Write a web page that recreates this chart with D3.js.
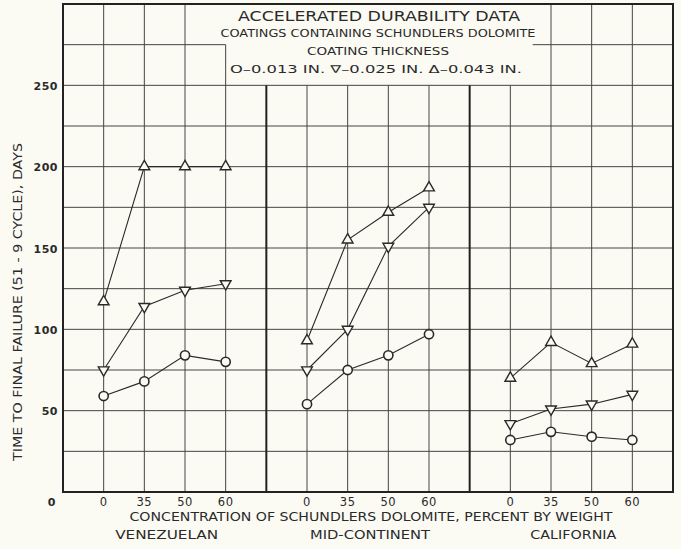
<!DOCTYPE html>
<html>
<head>
<meta charset="utf-8">
<script src="https://cdn.jsdelivr.net/npm/d3@7"></script>
<style>
  body { margin: 0; background: #fbfbf4; }
  svg { display: block; }
  text { font-family: "DejaVu Sans", sans-serif; fill: #2a2a2a; }
</style>
</head>
<body>
<div id="chart"></div>
<script>
// data
var panels = ["VENEZUELAN", "MID-CONTINENT", "CALIFORNIA"];
var panelLabelWidths = [103, 120, 86];
var concentrations = ["0", "35", "50", "60"];
// time to final failure, days -- one row per panel
var thick013 = [[59, 68, 84, 80], [54, 75, 84, 97], [32, 37, 34, 32]];
var thick025 = [[75, 114, 124, 128], [75, 100, 151, 175], [42, 51, 54, 60]];
var thick043 = [[117, 200, 200, 200], [93, 155, 172, 187], [70, 92, 79, 91]];
var yTicks = [0, 50, 100, 150, 200, 250];

var width = 681, height = 549;
var ink = "#2a2a2a";

var svg = d3.select("#chart").append("svg")
    .attr("width", width)
    .attr("height", height);

// x runs over grid columns: 5 columns per panel, points sit on columns 1..4
var xScale = d3.scaleLinear().domain([0, 15]).range([63, 673]);
var yScale = d3.scaleLinear().domain([0, 300]).range([492, 4]);

function colOf(p, i) { return p * 5 + i + 1; }

// grid
var grid = svg.append("g").attr("stroke", "#444").attr("stroke-width", 1);

// horizontal lines every 25 days
d3.range(25, 300, 25).forEach(function (v) {
    if (v === 275) {
        grid.append("line")
            .attr("x1", xScale(0)).attr("x2", xScale(4))
            .attr("y1", yScale(v)).attr("y2", yScale(v));
        grid.append("line")
            .attr("x1", xScale(11.55)).attr("x2", xScale(15))
            .attr("y1", yScale(v)).attr("y2", yScale(v));
    } else {
        grid.append("line")
            .attr("x1", xScale(0)).attr("x2", xScale(15))
            .attr("y1", yScale(v)).attr("y2", yScale(v));
    }
});

// vertical lines
d3.range(1, 15).forEach(function (c) {
    var top = 300;
    if (c === 4) top = 275;
    else if (c >= 5 && c <= 11) top = 250;
    var sep = (c === 5 || c === 10);
    grid.append("line")
        .attr("x1", xScale(c)).attr("x2", xScale(c))
        .attr("y1", yScale(0)).attr("y2", yScale(top))
        .attr("stroke", sep ? "#222" : "#444")
        .attr("stroke-width", sep ? 2 : 1);
});

// frame
svg.append("path")
    .attr("d", "M" + xScale(0) + "," + yScale(300) + "H" + xScale(15) + "V" + yScale(0) + "H" + xScale(0) + "Z")
    .attr("fill", "none")
    .attr("stroke", "#222")
    .attr("stroke-width", 2);

// y tick labels
svg.append("g").selectAll("text")
    .data(yTicks)
    .enter().append("text")
    .attr("x", function (d) { return d === 0 ? 56 : 58; })
    .attr("y", function (d) { return d === 0 ? yScale(d) + 14 : yScale(d) + 4.5; })
    .attr("text-anchor", "end")
    .attr("font-size", 11)
    .attr("font-weight", "bold")
    .attr("letter-spacing", 0.5)
    .text(function (d) { return d; });

svg.append("text")
    .attr("transform", "translate(22,302) rotate(-90)")
    .attr("text-anchor", "middle")
    .attr("font-size", 11.5)
    .attr("textLength", 318)
    .attr("lengthAdjust", "spacingAndGlyphs")
    .text("TIME TO FINAL FAILURE (51 - 9 CYCLE), DAYS");

// x tick labels
panels.forEach(function (name, p) {
    svg.append("g").selectAll("text")
        .data(concentrations)
        .enter().append("text")
        .attr("x", function (d, i) { return xScale(colOf(p, i)); })
        .attr("y", 506)
        .attr("text-anchor", "middle")
        .attr("font-size", 11.5)
        .attr("letter-spacing", 0.5)
        .text(function (d) { return d; });

    svg.append("text")
        .attr("x", xScale(p * 5 + 2.5) + 2)
        .attr("y", 539)
        .attr("text-anchor", "middle")
        .attr("font-size", 11.5)
        .attr("textLength", panelLabelWidths[p])
        .attr("lengthAdjust", "spacingAndGlyphs")
        .text(name);
});

svg.append("text")
    .attr("x", 371)
    .attr("y", 521)
    .attr("text-anchor", "middle")
    .attr("font-size", 12)
    .attr("textLength", 483)
    .attr("lengthAdjust", "spacingAndGlyphs")
    .text("CONCENTRATION OF SCHUNDLERS DOLOMITE, PERCENT BY WEIGHT");

// legend / title box text
var legendLines = [
    { t: "ACCELERATED DURABILITY DATA", y: 21, size: 14, len: 282 },
    { t: "COATINGS CONTAINING SCHUNDLERS DOLOMITE", y: 37, size: 10.5, len: 315 },
    { t: "COATING THICKNESS", y: 55, size: 10.5, len: 142 },
    { t: "O\u20130.013 IN.   \u2207\u20130.025 IN.   \u0394\u20130.043 IN.", y: 73, size: 10.5, len: 292 }
];
svg.append("g").selectAll("text")
    .data(legendLines)
    .enter().append("text")
    .attr("x", function (d, i) { return i === 0 ? 379 : (i === 3 ? 376 : 378); })
    .attr("y", function (d) { return d.y; })
    .attr("text-anchor", "middle")
    .attr("font-size", function (d) { return d.size; })
    .attr("textLength", function (d) { return d.len; })
    .attr("lengthAdjust", "spacingAndGlyphs")
    .text(function (d) { return d.t; });

// series
var series = [
    { vals: thick013, shape: "circle" },
    { vals: thick025, shape: "down" },
    { vals: thick043, shape: "up" }
];

var line = d3.line()
    .x(function (d) { return xScale(d.c); })
    .y(function (d) { return yScale(d.v); });

var tri = d3.symbol().type(d3.symbolTriangle).size(50);

series.forEach(function (s) {
    s.vals.forEach(function (row, p) {
        var pts = row.map(function (v, i) { return { c: colOf(p, i), v: v }; });

        svg.append("path")
            .datum(pts)
            .attr("d", line)
            .attr("fill", "none")
            .attr("stroke", ink)
            .attr("stroke-width", 1.1);

        var g = svg.append("g").selectAll(".pt")
            .data(pts)
            .enter();

        if (s.shape === "circle") {
            g.append("circle")
                .attr("cx", function (d) { return xScale(d.c); })
                .attr("cy", function (d) { return yScale(d.v); })
                .attr("r", 4.6)
                .attr("fill", "#fbfbf4")
                .attr("stroke", ink)
                .attr("stroke-width", 1.6);
        } else {
            g.append("path")
                .attr("d", tri)
                .attr("transform", function (d) {
                    return "translate(" + xScale(d.c) + "," + yScale(d.v) + ")" +
                        (s.shape === "down" ? " rotate(180)" : "");
                })
                .attr("fill", "#fbfbf4")
                .attr("stroke", ink)
                .attr("stroke-width", 1.4);
        }
    });
});
</script>
</body>
</html>
